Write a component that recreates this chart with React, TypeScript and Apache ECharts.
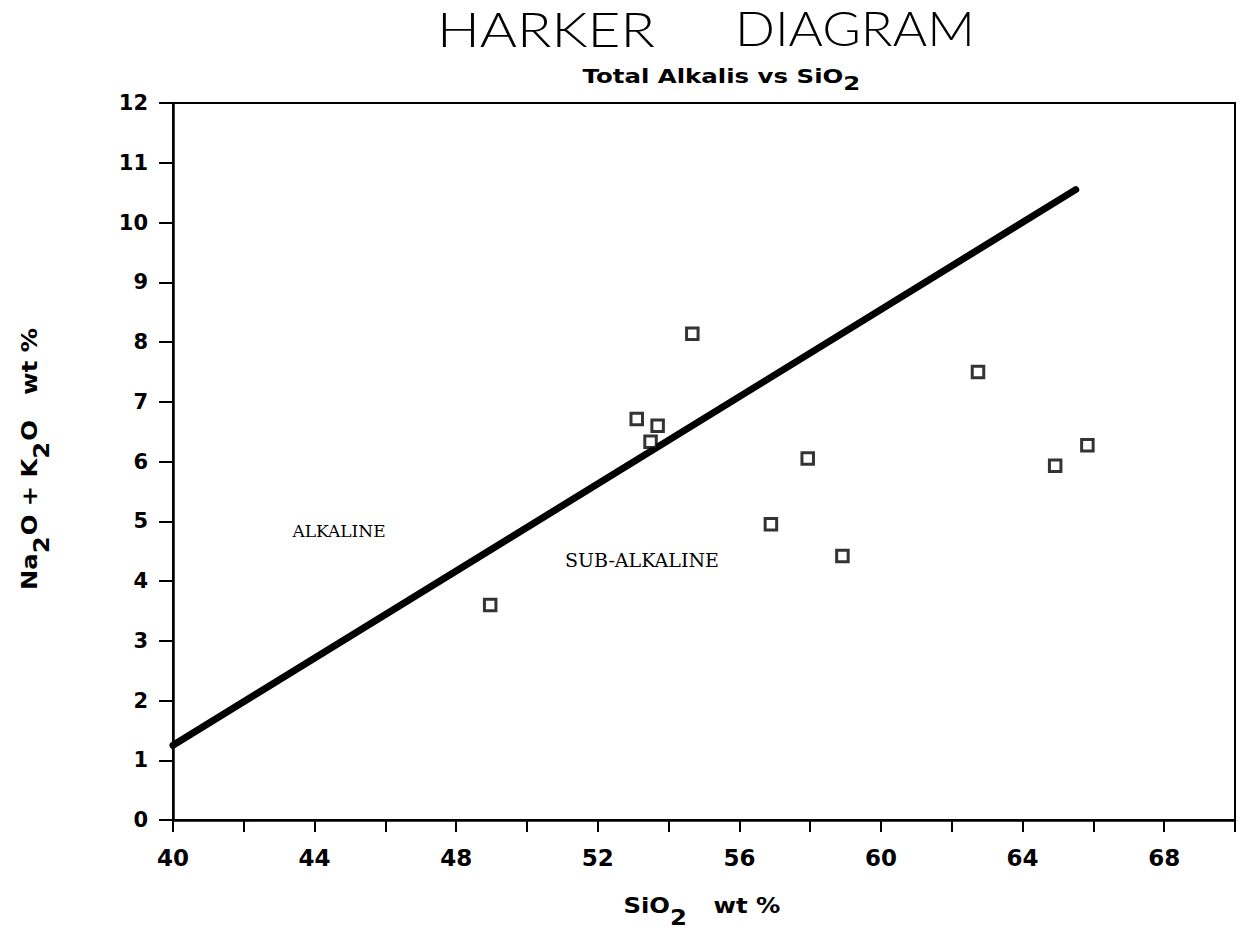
import React, { useEffect, useRef } from "react";
import * as echarts from "echarts";

// Silica (wt %) and total alkalis (wt %) of the analysed samples
const sio2 = [48.96, 53.1, 53.49, 53.69, 54.67, 56.89, 57.93, 58.91, 62.74, 64.92, 65.83];
const alkalis = [3.6, 6.71, 6.33, 6.6, 8.14, 4.95, 6.05, 4.42, 7.5, 5.93, 6.27];

// Alkaline / sub-alkaline dividing line
const divideSio2 = [40, 65.5];
const divideAlk = [1.25, 10.55];

// Axis ranges
const xRange = [40, 70];
const yRange = [0, 12];

const SANS = "'DejaVu Sans', sans-serif";
const SERIF = "'DejaVu Serif', serif";

type Part = { t: string; sub?: boolean };

let measureCtx: CanvasRenderingContext2D | null = null;
function textWidth(text: string, font: string): number {
  if (!measureCtx) measureCtx = document.createElement("canvas").getContext("2d");
  if (!measureCtx) return text.length * 12;
  measureCtx.font = font;
  return measureCtx.measureText(text).width;
}

// A run of text pieces on one baseline, with chemical-formula subscripts
// dropped below it. Returns the children laid out from local x = 0.
function formulaRun(parts: Part[], font: string, subDrop: number) {
  let x = 0;
  const children: any[] = [];
  parts.forEach((p) => {
    const w = textWidth(p.t, font);
    children.push({
      type: "text",
      style: {
        x,
        y: p.sub ? subDrop : 0,
        text: p.t,
        font,
        fill: "#000",
        align: "left",
        verticalAlign: "bottom",
      },
    });
    x += w + (p.sub ? 1 : 0);
  });
  return { children, width: x };
}

// Formula text centred on (cx, baseline), squeezed or stretched to a width
function formulaLabel(
  parts: Part[],
  font: string,
  subDrop: number,
  cx: number,
  cy: number,
  targetWidth: number,
  rotation = 0
) {
  const run = formulaRun(parts, font, subDrop);
  const s = targetWidth / run.width;
  return {
    type: "group",
    x: cx,
    y: cy,
    rotation,
    children: [
      {
        type: "group",
        x: -targetWidth / 2,
        y: 0,
        scaleX: s,
        children: run.children,
      },
    ],
  };
}

function stretchedWord(text: string, font: string, left: number, right: number, bottom: number) {
  const w = textWidth(text, font);
  return {
    type: "text",
    x: left,
    y: bottom,
    scaleX: (right - left) / w,
    style: { x: 0, y: 0, text, font, fill: "#000", align: "left", verticalAlign: "bottom" },
  };
}

export default function App() {
  const ref = useRef<HTMLDivElement>(null);

  useEffect(() => {
    if (!ref.current) return;
    const chart = echarts.init(ref.current, null, { renderer: "svg" });

    const points = sio2.map((x, i) => [x, alkalis[i]]);
    const divide = divideSio2.map((x, i) => [x, divideAlk[i]]);

    const titleFont = `300 47px Lato, ${SANS}`;
    const labelFont = `bold 22px ${SANS}`;

    chart.setOption({
      animation: false,
      backgroundColor: "#fff",
      grid: {
        left: 173,
        right: 10,
        top: 103,
        bottom: 113,
        show: true,
        borderColor: "#000",
        borderWidth: 2,
        backgroundColor: "transparent",
      },
      xAxis: {
        type: "value",
        min: xRange[0],
        max: xRange[1],
        interval: 2,
        axisLine: { show: true, onZero: false, lineStyle: { color: "#000", width: 2.5 } },
        axisTick: { show: true, inside: false, length: 12, lineStyle: { color: "#000", width: 2 } },
        splitLine: { show: false },
        axisLabel: {
          margin: 26,
          color: "#000",
          fontFamily: SANS,
          fontWeight: "bold",
          fontSize: 23,
          formatter: (v: number) => (v % 4 === 0 ? String(v) : ""),
        },
      },
      yAxis: {
        type: "value",
        min: yRange[0],
        max: yRange[1],
        interval: 1,
        axisLine: { show: true, onZero: false, lineStyle: { color: "#000", width: 2.5 } },
        axisTick: { show: true, inside: false, length: 14, lineStyle: { color: "#000", width: 2 } },
        splitLine: { show: false },
        axisLabel: {
          margin: 25,
          color: "#000",
          fontFamily: SANS,
          fontWeight: "bold",
          fontSize: 21,
        },
      },
      graphic: [
        stretchedWord("HARKER", titleFont, 437, 655, 52),
        stretchedWord("DIAGRAM", titleFont, 735, 975, 52),
        formulaLabel(
          [{ t: "Total Alkalis vs SiO" }, { t: "2", sub: true }],
          `bold 20px ${SANS}`,
          7,
          722,
          86,
          279
        ),
        formulaLabel(
          [{ t: "SiO" }, { t: "2", sub: true }, { t: "   wt %" }],
          labelFont,
          12,
          702,
          916,
          157
        ),
        formulaLabel(
          [
            { t: "Na" },
            { t: "2", sub: true },
            { t: "O + K" },
            { t: "2", sub: true },
            { t: "O   wt %" },
          ],
          labelFont,
          12,
          40,
          459,
          262,
          Math.PI / 2
        ),
        {
          type: "text",
          style: {
            x: 339,
            y: 531,
            text: "ALKALINE",
            align: "center",
            verticalAlign: "middle",
            fill: "#000",
            font: `17px ${SERIF}`,
          },
        },
        {
          type: "text",
          style: {
            x: 642,
            y: 560,
            text: "SUB-ALKALINE",
            align: "center",
            verticalAlign: "middle",
            fill: "#000",
            font: `19px ${SERIF}`,
          },
        },
      ],
      series: [
        {
          type: "line",
          data: divide,
          symbol: "none",
          lineStyle: { color: "#000", width: 7, cap: "round" },
          z: 2,
          silent: true,
        },
        {
          type: "scatter",
          data: points,
          symbol: "rect",
          symbolSize: 11.5,
          itemStyle: { color: "#fff", borderColor: "#000", borderWidth: 3 },
          z: 3,
        },
      ],
    });

    return () => chart.dispose();
  }, []);

  return (
    <div
      ref={ref}
      style={{ position: "absolute", left: 0, top: 0, width: 1245, height: 933, background: "#fff" }}
    />
  );
}
